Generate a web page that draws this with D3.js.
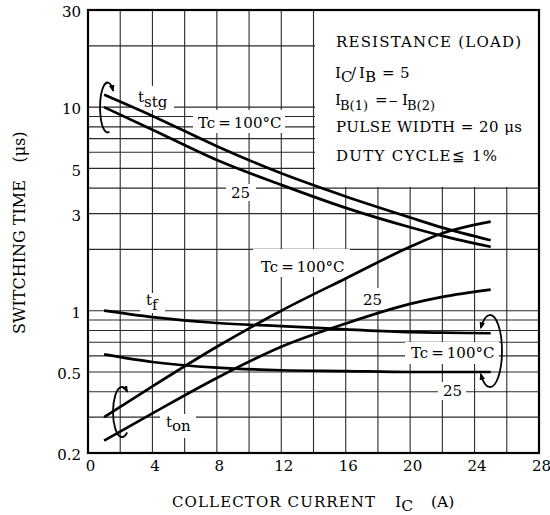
<!DOCTYPE html>
<html>
<head>
<meta charset="utf-8">
<script src="https://cdn.jsdelivr.net/npm/d3@7"></script>
<style>
  body { margin: 0; background: #fff; }
  svg text { font-family: "DejaVu Serif", serif; fill: #000; }
</style>
</head>
<body>
<script>
// collector current values (A) the curves were read at
const current = [1, 4, 8, 12, 16, 20, 22, 25];

// switching times (us)
const tstg100 = [11.5, 9.05, 6.43, 4.73, 3.64, 2.87, 2.56, 2.22];
const tstg25  = [10.0, 7.75, 5.5, 4.15, 3.2, 2.57, 2.33, 2.06];
const tf100   = [1.0, 0.93, 0.87, 0.84, 0.81, 0.785, 0.78, 0.775];
const tf25    = [0.61, 0.56, 0.525, 0.51, 0.505, 0.5, 0.5, 0.5];
const ton100  = [0.30, 0.425, 0.665, 1.0, 1.44, 2.06, 2.4, 2.74];
const ton25   = [0.23, 0.313, 0.467, 0.665, 0.865, 1.08, 1.17, 1.27];

const xTicks = [0, 4, 8, 12, 16, 20, 24, 28];
const yTicks = [0.2, 0.5, 1, 3, 5, 10, 30];
const yGrid  = [0.3, 0.4, 0.5, 0.6, 0.7, 0.8, 0.9, 1, 2, 3, 4, 5, 6, 7, 8, 9, 10, 20];
const xGrid  = d3.range(2, 28, 2);

const width = 550, height = 515;
const margin = {top: 10, right: 11, bottom: 62, left: 88};

const svg = d3.select("body").append("svg")
    .attr("width", width)
    .attr("height", height);

const x = d3.scaleLinear()
    .domain([0, 28])
    .range([margin.left, width - margin.right]);
const y = d3.scaleLog()
    .domain([0.2, 30])
    .range([height - margin.bottom, margin.top]);

// arrow head
svg.append("defs").append("marker")
    .attr("id", "arr")
    .attr("viewBox", "0 0 10 10")
    .attr("refX", 8).attr("refY", 5)
    .attr("markerWidth", 7).attr("markerHeight", 7)
    .attr("markerUnits", "userSpaceOnUse")
    .attr("orient", "auto-start-reverse")
    .append("path")
    .attr("d", "M0,1 L10,5 L0,9 z");

// grid
const grid = svg.append("g").attr("stroke", "#2a2a2a").attr("stroke-width", 1.1);
grid.selectAll("line.v").data(xGrid).join("line")
    .attr("x1", d => x(d)).attr("x2", d => x(d))
    .attr("y1", y(0.2)).attr("y2", y(30));
grid.selectAll("line.h").data(yGrid).join("line")
    .attr("x1", x(0)).attr("x2", x(28))
    .attr("y1", d => y(d)).attr("y2", d => y(d));

// white boxes that break the grid (legend + labels)
const boxes = [
    [315, 11, 224, 176],   // legend
    [131, 86, 43, 24],     // tstg
    [193, 110, 92, 23],    // Tc=100 (tstg)
    [226, 184, 30, 17],    // 25 (tstg)
    [253, 249, 97, 28],    // Tc=100 (ton)
    [357, 288, 30, 22],    // 25 (ton)
    [140, 293, 25, 20],    // tf
    [160, 414, 36, 24],    // ton
    [405, 342, 94, 22],    // Tc=100 (tf)
    [438, 382, 28, 18]     // 25 (tf)
];
svg.append("g").selectAll("rect").data(boxes).join("rect")
    .attr("x", d => d[0]).attr("y", d => d[1])
    .attr("width", d => d[2]).attr("height", d => d[3])
    .attr("fill", "#fff");

// curves
const line = d3.line()
    .x((d, i) => x(current[i]))
    .y(d => y(d))
    .curve(d3.curveMonotoneX);

svg.append("g")
    .attr("fill", "none")
    .attr("stroke", "#000")
    .attr("stroke-width", 2.7)
    .selectAll("path")
    .data([tstg100, tstg25, tf100, tf25, ton100, ton25])
    .join("path")
    .attr("d", line);

// frame
svg.append("rect")
    .attr("x", x(0)).attr("y", y(30))
    .attr("width", x(28) - x(0)).attr("height", y(0.2) - y(30))
    .attr("fill", "none").attr("stroke", "#000").attr("stroke-width", 2.2);

// loop arrows
function loop(cx, cy, rx, ry, a0, a1, both) {
    const r = Math.PI / 180;
    const p0 = [cx + rx * Math.cos(a0 * r), cy + ry * Math.sin(a0 * r)];
    const p1 = [cx + rx * Math.cos(a1 * r), cy + ry * Math.sin(a1 * r)];
    const p = svg.append("path")
        .attr("d", `M${p0[0]},${p0[1]} A${rx},${ry} 0 1 1 ${p1[0]},${p1[1]}`)
        .attr("fill", "none").attr("stroke", "#000").attr("stroke-width", 1.8)
        .attr("marker-end", "url(#arr)");
    if (both) p.attr("marker-start", "url(#arr)");
}
loop(107.5, 107.5, 7.5, 25, 75, 318, false);
loop(122, 412, 9, 25, 55, 305, false);
loop(490, 351, 12, 36, 220, 140, true);

// axes labels
const xAxis = svg.append("g")
    .attr("transform", `translate(0,${y(0.2) + 4})`)
    .call(d3.axisBottom(x).tickValues(xTicks).tickSize(0).tickFormat(d3.format("d")));
xAxis.select(".domain").remove();
xAxis.selectAll("text").attr("font-size", 15).attr("font-family", "DejaVu Serif").attr("dx", 2);

const yAxis = svg.append("g")
    .attr("transform", `translate(${x(0) - 4},0)`)
    .call(d3.axisLeft(y).tickValues(yTicks).tickSize(0).tickFormat(d => d));
yAxis.select(".domain").remove();
yAxis.selectAll("text").attr("font-size", 15).attr("font-family", "DejaVu Serif").attr("dy", "0.45em");

// text helpers
function label(px, py, main, sub, size, shift) {
    const t = svg.append("text").attr("x", px).attr("y", py).attr("font-size", size);
    t.append("tspan").text(main);
    if (sub) t.append("tspan").attr("dy", shift).text(sub);
    return t;
}

// pieces: [text, x, dy, size]
function pieces(py, parts, size) {
    const t = svg.append("text").attr("y", py).attr("font-size", size);
    parts.forEach(p => {
        const s = t.append("tspan").text(p[0]);
        if (p[1] != null) s.attr("x", p[1]);
        if (p[2]) s.attr("dy", p[2]);
        if (p[3]) s.attr("font-size", p[3]);
    });
    return t;
}

// one string stretched to the width it has in the reference
function stretched(px, py, str, len, size) {
    return svg.append("text").attr("x", px).attr("y", py)
        .attr("font-size", size)
        .attr("textLength", len).attr("lengthAdjust", "spacing")
        .text(str);
}

label(138, 102, "t", "stg", 15, 5);
label(146, 305, "t", "f", 15, 5);
label(166, 427, "t", "on", 15, 4);

const tc = "Tc\u2009=\u2009100\u00b0C";
label(198, 128, tc, null, 15);
label(261, 272, tc, null, 15);
label(411, 358, tc, null, 15);
label(231, 198, "25", null, 15);
label(363, 305, "25", null, 15);
label(443, 396, "25", null, 15);

// legend
stretched(336, 47, "RESISTANCE (LOAD)", 185, 15);
pieces(78, [["I", 335], ["C", null, 4], ["/", 351, -4], ["I", 359], ["B", null, 4],
            ["=", 382, -4], ["5", 400]], 15);
pieces(105, [["I", 335], ["B(1)", 340, 5, 13], ["=", 375, -5], ["\u2212", 388, 0, 12], ["I", 402],
             ["B(2)", 407, 5, 13]], 15);
stretched(336, 132, "PULSE WIDTH = 20 \u03bcs", 186, 15);
stretched(336, 161, "DUTY CYCLE\u2266 1%", 161, 15);

// axis titles
stretched(172, 507, "COLLECTOR CURRENT", 203, 15);
pieces(507, [["I", 395], ["C", null, 4], ["(A)", 431, -4]], 15.5);

svg.append("text")
    .attr("transform", "translate(25,257) rotate(-90)")
    .attr("text-anchor", "middle").attr("font-size", 16)
    .text("SWITCHING TIME");
svg.append("text")
    .attr("transform", "translate(25,147) rotate(-90)")
    .attr("text-anchor", "middle").attr("font-size", 16)
    .text("(\u03bcs)");
</script>
</body>
</html>
